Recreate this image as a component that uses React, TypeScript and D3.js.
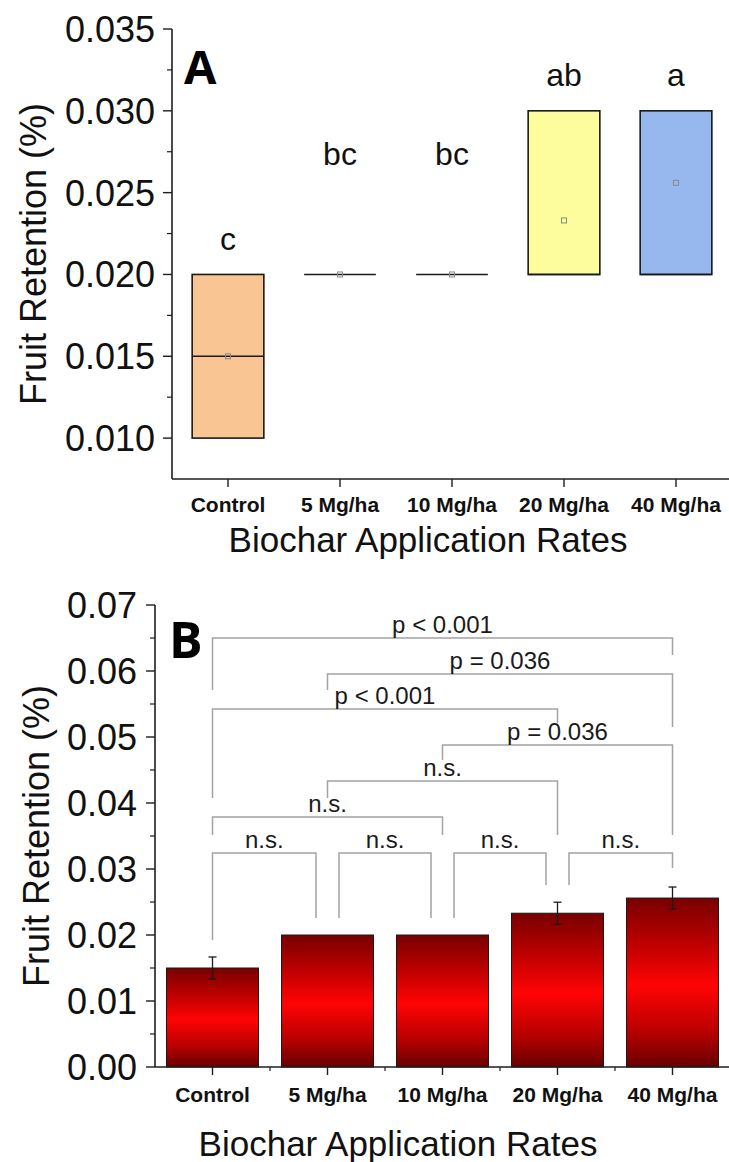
import React from "react";
import * as d3 from "d3";

// ---- data ----
const categories = ["Control", "5 Mg/ha", "10 Mg/ha", "20 Mg/ha", "40 Mg/ha"];

// Panel A: box statistics per application rate
const boxLow = [0.01, 0.02, 0.02, 0.02, 0.02];
const boxHigh = [0.02, 0.02, 0.02, 0.03, 0.03];
const boxMedian = [0.015, 0.02, 0.02, 0.02, 0.02];
const boxMean = [0.015, 0.02, 0.02, 0.0233, 0.0256];
const groupLetters = ["c", "bc", "bc", "ab", "a"];
const letterLevel = [0.0215, 0.0267, 0.0267, 0.0315, 0.0315];
const boxColors = ["#f9c592", "#ffffff", "#ffffff", "#fdfd9e", "#97b8ee"];

const yTicksA = [0.01, 0.015, 0.02, 0.025, 0.03, 0.035];
const yMinorA = [0.0125, 0.0175, 0.0225, 0.0275, 0.0325];

// Panel B: means with standard errors
const barMean = [0.015, 0.02, 0.02, 0.0233, 0.0256];
const barErr = [0.00167, 0, 0, 0.00167, 0.00167];

const yTicksB = [0, 0.01, 0.02, 0.03, 0.04, 0.05, 0.06, 0.07];
const yMinorB = [0.005, 0.015, 0.025, 0.035, 0.045, 0.055, 0.065];

// Pairwise comparison brackets (category indices, heights in data units)
const bracketFrom = [0, 1, 0, 2, 1, 0, 0, 1, 2, 3];
const bracketTo = [4, 4, 3, 4, 3, 2, 1, 2, 3, 4];
const bracketLevel = [0.065, 0.05955, 0.05424, 0.04879, 0.04333, 0.03788, 0.03242, 0.03242, 0.03242, 0.03242];
const bracketLeftEnd = [0.05712, 0.05712, 0.04076, 0.04652, 0.04076, 0.03515, 0.01924, 0.02258, 0.02258, 0.02758];
const bracketRightEnd = [0.06242, 0.05152, 0.05212, 0.03515, 0.03515, 0.03515, 0.02258, 0.02258, 0.02758, 0.03015];
const bracketLabel = ["p < 0.001", "p = 0.036", "p < 0.001", "p = 0.036", "n.s.", "n.s.", "n.s.", "n.s.", "n.s.", "n.s."];
const bracketInsetLeft = [0, 0, 0, 0, 0, 0, 0, 1, 1, 1];
const bracketInsetRight = [0, 0, 0, 0, 0, 0, 1, 1, 1, 0];

const FONT = "'Liberation Sans', Arial, Helvetica, sans-serif";
const PANEL_FONT = "'Open Sans', 'Noto Sans', sans-serif";
const AXIS = "#1e1e1e";

export default function App() {
  // ---- panel A scales ----
  const xA = d3.scaleBand<string>().domain(categories).range([172, 732]).padding(0);
  const yA = d3.scaleLinear().domain([0.0075, 0.035]).range([479, 29]);
  const boxW = xA.step() * 0.64;
  const cA = (c: string) => (xA(c) as number) + xA.bandwidth() / 2;

  // ---- panel B scales ----
  const xB = d3.scaleBand<string>().domain(categories).range([155, 730]).padding(0);
  const yB = d3.scaleLinear().domain([0, 0.07]).range([1067, 605]);
  const barW = xB.step() * 0.8;
  const cB = (c: string) => (xB(c) as number) + xB.bandwidth() / 2;
  const inset = xB.step() * 0.1;

  const fmtA = d3.format(".3f");
  const fmtB = d3.format(".2f");

  return (
    <svg
      width={729}
      height={1162}
      style={{ position: "absolute", left: 0, top: 0, background: "#fff" }}
      fontFamily={FONT}
    >
      <defs>
        <linearGradient id="barGrad" x1="0" y1="0" x2="0" y2="1">
          <stop offset="0" stopColor="#780000" />
          <stop offset="0.22" stopColor="#b00000" />
          <stop offset="0.52" stopColor="#ff0404" />
          <stop offset="0.8" stopColor="#b50000" />
          <stop offset="1" stopColor="#660000" />
        </linearGradient>
      </defs>
      <rect x={0} y={0} width={729} height={1162} fill="#fff" />

      {/* ================= Panel A ================= */}
      <g>
        {categories.map((c, i) => {
          const x0 = cA(c) - boxW / 2;
          const top = yA(boxHigh[i]);
          const bot = yA(boxLow[i]);
          const flat = Math.abs(bot - top) < 0.5;
          return (
            <g key={c}>
              {flat ? (
                <line x1={x0} x2={x0 + boxW} y1={top} y2={top} stroke="#1a1a1a" strokeWidth={1.6} />
              ) : (
                <rect x={x0} y={top} width={boxW} height={bot - top} fill={boxColors[i]} stroke="#1a1a1a" strokeWidth={1.6} />
              )}
              {!flat && (
                <line x1={x0} x2={x0 + boxW} y1={yA(boxMedian[i])} y2={yA(boxMedian[i])} stroke="#1a1a1a" strokeWidth={1.6} />
              )}
              <rect x={cA(c) - 2.5} y={yA(boxMean[i]) - 2.5} width={5} height={5} fill="none" stroke="#8a8a8a" strokeWidth={1} />
              <text x={cA(c)} y={yA(letterLevel[i])} textAnchor="middle" fontSize={32} fill="#111">
                {groupLetters[i]}
              </text>
            </g>
          );
        })}

        <line x1={172} x2={172} y1={yA(0.035)} y2={yA(0.0075)} stroke={AXIS} strokeWidth={1.6} />
        <line x1={172} x2={732} y1={yA(0.0075)} y2={yA(0.0075)} stroke={AXIS} strokeWidth={1.6} />
        {yTicksA.map((t) => (
          <g key={t}>
            <line x1={163} x2={172} y1={yA(t)} y2={yA(t)} stroke={AXIS} strokeWidth={1.4} />
            <text x={155} y={yA(t) + 13} textAnchor="end" fontSize={36} fill="#111">
              {fmtA(t)}
            </text>
          </g>
        ))}
        {yMinorA.map((t) => (
          <line key={t} x1={167} x2={172} y1={yA(t)} y2={yA(t)} stroke={AXIS} strokeWidth={1.2} />
        ))}
        {categories.map((c) => (
          <g key={c}>
            <line x1={cA(c)} x2={cA(c)} y1={479} y2={487} stroke={AXIS} strokeWidth={1.4} />
            <text x={cA(c)} y={512} textAnchor="middle" fontSize={21} fontWeight="bold" fill="#111">
              {c}
            </text>
          </g>
        ))}
        <text x={428} y={552} textAnchor="middle" fontSize={35} fill="#111">
          Biochar Application Rates
        </text>
        <text transform={`translate(46, ${(yA(0.035) + yA(0.0075)) / 2}) rotate(-90)`} textAnchor="middle" fontSize={36} fill="#111">
          Fruit Retention (%)
        </text>
        <text x={184} y={84} fontSize={47} fontWeight="bold" fontFamily={PANEL_FONT} fill="#000">
          A
        </text>
      </g>

      {/* ================= Panel B ================= */}
      <g>
        {categories.map((c, i) => (
          <rect
            key={c}
            x={cB(c) - barW / 2}
            y={yB(barMean[i])}
            width={barW}
            height={yB(0) - yB(barMean[i])}
            fill="url(#barGrad)"
            stroke="#1a1a1a"
            strokeWidth={1}
          />
        ))}
        {categories.map((c, i) =>
          barErr[i] > 0 ? (
            <g key={c} stroke="#1a1a1a" strokeWidth={1.3}>
              <line x1={cB(c)} x2={cB(c)} y1={yB(barMean[i] + barErr[i])} y2={yB(barMean[i] - barErr[i])} />
              <line x1={cB(c) - 4} x2={cB(c) + 4} y1={yB(barMean[i] + barErr[i])} y2={yB(barMean[i] + barErr[i])} />
              <line x1={cB(c) - 4} x2={cB(c) + 4} y1={yB(barMean[i] - barErr[i])} y2={yB(barMean[i] - barErr[i])} />
            </g>
          ) : null
        )}

        {bracketFrom.map((f, k) => {
          const xl = cB(categories[f]) + bracketInsetLeft[k] * inset;
          const xr = cB(categories[bracketTo[k]]) - bracketInsetRight[k] * inset;
          const yl = yB(bracketLevel[k]);
          return (
            <g key={k}>
              <path
                d={`M${xl},${yB(bracketLeftEnd[k])}V${yl}H${xr}V${yB(bracketRightEnd[k])}`}
                fill="none"
                stroke="#a3a3a3"
                strokeWidth={1.5}
              />
              <text x={(xl + xr) / 2} y={yl - 5} textAnchor="middle" fontSize={24} fill="#1a1a1a">
                {bracketLabel[k]}
              </text>
            </g>
          );
        })}

        <line x1={155} x2={155} y1={yB(0.07)} y2={yB(0)} stroke={AXIS} strokeWidth={1.6} />
        <line x1={155} x2={730} y1={yB(0)} y2={yB(0)} stroke={AXIS} strokeWidth={1.6} />
        {yTicksB.map((t) => (
          <g key={t}>
            <line x1={146} x2={155} y1={yB(t)} y2={yB(t)} stroke={AXIS} strokeWidth={1.4} />
            <text x={137} y={yB(t) + 13} textAnchor="end" fontSize={36} fill="#111">
              {fmtB(t)}
            </text>
          </g>
        ))}
        {yMinorB.map((t) => (
          <line key={t} x1={150} x2={155} y1={yB(t)} y2={yB(t)} stroke={AXIS} strokeWidth={1.2} />
        ))}
        {categories.map((c) => (
          <g key={c}>
            <line x1={cB(c)} x2={cB(c)} y1={1067} y2={1075} stroke={AXIS} strokeWidth={1.4} />
            <text x={cB(c)} y={1102} textAnchor="middle" fontSize={21} fontWeight="bold" fill="#111">
              {c}
            </text>
          </g>
        ))}
        {categories.slice(1).map((c) => (
          <line key={c} x1={xB(c) as number} x2={xB(c) as number} y1={1067} y2={1071} stroke={AXIS} strokeWidth={1.2} />
        ))}
        <text x={398} y={1156} textAnchor="middle" fontSize={35} fill="#111">
          Biochar Application Rates
        </text>
        <text transform={`translate(49, ${(yB(0.07) + yB(0)) / 2}) rotate(-90)`} textAnchor="middle" fontSize={36} fill="#111">
          Fruit Retention (%)
        </text>
        <text x={169} y={658} fontSize={50} fontWeight="bold" fontFamily={PANEL_FONT} fill="#000">
          B
        </text>
      </g>
    </svg>
  );
}
